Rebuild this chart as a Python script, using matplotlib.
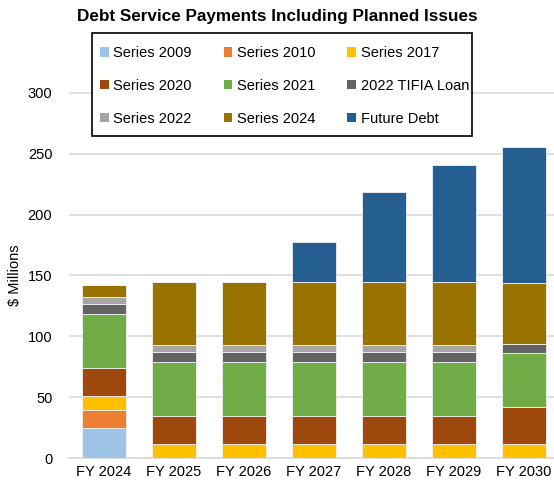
import numpy as np
import matplotlib
matplotlib.use("Agg")
import matplotlib.pyplot as plt
from matplotlib.patches import Patch, Rectangle

plt.rcParams["font.family"] = ["Liberation Sans", "DejaVu Sans"]

# ── 数据 ──────────────────────────────────────────────
years = ["FY 2024", "FY 2025", "FY 2026", "FY 2027", "FY 2028", "FY 2029", "FY 2030"]
series_names = ["Series 2009", "Series 2010", "Series 2017", "Series 2020", "Series 2021",
                "2022 TIFIA Loan", "Series 2022", "Series 2024", "Future Debt"]
s2009 = [25.0, 0, 0, 0, 0, 0, 0]
s2010 = [14.5, 0, 0, 0, 0, 0, 0]
s2017 = [11.5, 11.2, 11.2, 11.2, 11.2, 11.2, 11.2]
s2020 = [23.0, 23.6, 23.6, 23.6, 23.6, 23.6, 30.4]
s2021 = [44.7, 44.3, 44.3, 44.3, 44.3, 44.3, 44.4]
tifia = [7.6, 7.7, 7.7, 7.7, 7.7, 7.7, 7.7]
s2022 = [6.0, 6.3, 6.3, 6.3, 6.3, 6.3, 0]
s2024 = [10.0, 51.3, 51.3, 51.3, 51.3, 51.3, 50.4]
future = [0, 0, 0, 33.1, 74.2, 96.1, 111.7]

colors = ["#9DC3E6", "#ED7D31", "#FFC000", "#9E480E", "#70AD47",
          "#636363", "#A5A5A5", "#997300", "#255E91"]

all_series = [s2009, s2010, s2017, s2020, s2021, tifia, s2022, s2024, future]

W, H = 554, 487
fig = plt.figure(figsize=(W / 100, H / 100), dpi=100)
ax = fig.add_axes([69 / W, 1 - 458 / H, (554 - 69) / W, (458 - 32) / H])

x = np.arange(len(years))
bottom = np.zeros(len(years))
for vals, c in zip(all_series, colors):
    vals = np.array(vals, dtype=float)
    ax.bar(x, vals, bottom=bottom, width=0.64, color=c,
           edgecolor="#F2F2F2", linewidth=0.6, zorder=3)
    bottom += vals

ax.set_xlim(-0.5, -0.5 + 485 / 70)
ax.set_ylim(0, 350)
ax.set_yticks(range(0, 301, 50))
ax.set_xticks(x)
ax.set_xticklabels(years)
ax.tick_params(axis="both", length=0, labelsize=10.5, colors="#000000")
ax.tick_params(axis="y", pad=12)
ax.tick_params(axis="x", pad=5)
ax.grid(axis="y", color="#D9D9D9", linewidth=1.2, zorder=0)
for s in ["top", "right", "left"]:
    ax.spines[s].set_visible(False)
ax.spines["bottom"].set_color("#D9D9D9")
ax.spines["bottom"].set_linewidth(1.2)

fig.text(15 / W, 1 - 275 / H, "$ Millions", rotation=90, ha="center", va="center", fontsize=10.5)
fig.text(0.5, 1 - 17 / H, "Debt Service Payments Including Planned Issues",
         ha="center", va="center", fontsize=12.3, fontweight="bold")

# 图例框：白底黑边，单独画
fig.patches.append(Rectangle((92 / W, 1 - 136 / H), 380 / W, 103 / H,
                             transform=fig.transFigure, facecolor="white",
                             edgecolor="black", linewidth=1.2, zorder=4))

# 图例按行排列（matplotlib 默认按列填充，这里调换顺序）
order = [0, 3, 6, 1, 4, 7, 2, 5, 8]
handles = [Patch(facecolor=colors[i], edgecolor="none") for i in order]
labels = [series_names[i] for i in order]
leg = fig.legend(handles, labels, ncol=3, loc="upper left",
                 bbox_to_anchor=(92 / W, 1 - 38 / H), fontsize=10.5,
                 frameon=False,
                 handlelength=0.6, handleheight=0.6, handletextpad=0.3,
                 labelspacing=1.3, columnspacing=2.2, borderpad=0.55,
                 borderaxespad=0)
leg.set_zorder(5)

fig.savefig("out.png", dpi=100)
